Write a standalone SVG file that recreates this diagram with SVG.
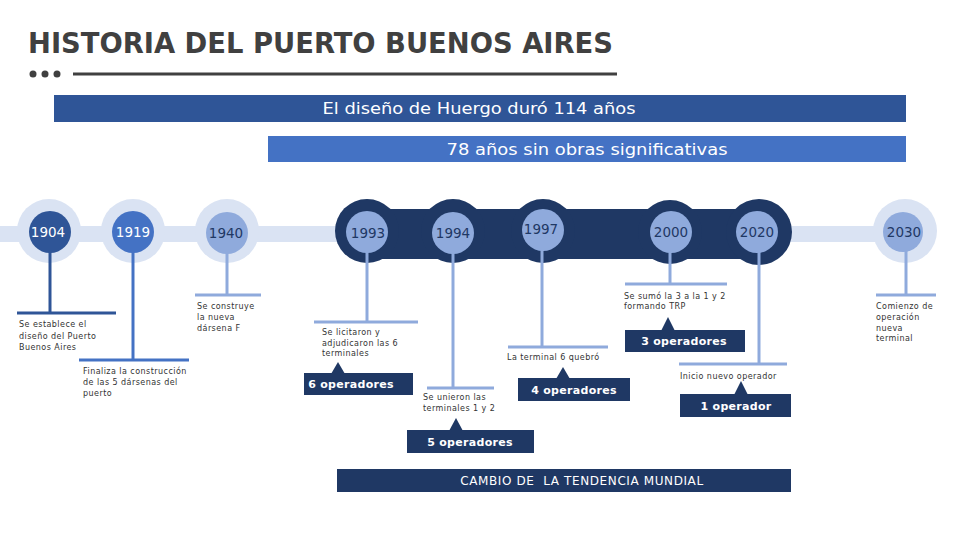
<svg xmlns="http://www.w3.org/2000/svg" width="960" height="540" viewBox="0 0 960 540">
<style>
.title{font-family:"DejaVu Sans Condensed","DejaVu Sans",sans-serif;font-weight:bold;font-size:28px;fill:#404040}
.ban{font-family:"DejaVu Sans Condensed","DejaVu Sans",sans-serif;font-size:16px;fill:#ffffff;text-anchor:middle}
.yr{font-family:"DejaVu Sans",sans-serif;font-size:13.5px;text-anchor:middle}
.yw{fill:#ffffff}
.yd{fill:#1f3864}
.desc{font-family:"DejaVu Sans",sans-serif;font-size:8px;fill:#333333;letter-spacing:0.45px}
.op{font-family:"DejaVu Sans",sans-serif;font-weight:bold;font-size:11px;fill:#ffffff;text-anchor:middle;letter-spacing:0.3px}
.cambio{font-family:"DejaVu Sans",sans-serif;font-size:12px;fill:#ffffff;text-anchor:middle;white-space:pre;letter-spacing:0.6px}
.navy{fill:#1f3864}
.light{fill:#dae3f3}
.b1{fill:#2f5597}
.b2{fill:#4472c4}
.b3{fill:#8faadc}
.c1{stroke:#2f5597;stroke-width:3;fill:none}
.c2{stroke:#4472c4;stroke-width:3;fill:none}
.c3{stroke:#8faadc;stroke-width:3;fill:none}
</style>

<g id="header">
  <text class="title" x="28" y="53" textLength="585" lengthAdjust="spacingAndGlyphs">HISTORIA DEL PUERTO BUENOS AIRES</text>
  <circle cx="33" cy="74" r="3.5" fill="#404040"/>
  <circle cx="45" cy="74" r="3.5" fill="#404040"/>
  <circle cx="57" cy="74" r="3.5" fill="#404040"/>
  <line x1="73" y1="74" x2="617" y2="74" stroke="#404040" stroke-width="3"/>
</g>

<g id="banner-huergo">
  <rect class="b1" x="54" y="95" width="852" height="27"/>
  <text class="ban" x="479" y="114" textLength="313" lengthAdjust="spacingAndGlyphs">El diseño de Huergo duró 114 años</text>
</g>
<g id="banner-78">
  <rect class="b2" x="268" y="136" width="638" height="26"/>
  <text class="ban" x="587" y="155" textLength="281" lengthAdjust="spacingAndGlyphs">78 años sin obras significativas</text>
</g>

<g id="timeline-band">
  <rect class="light" x="0" y="226" width="904" height="16"/>
  <rect class="navy" x="367" y="209" width="392" height="50"/>
</g>

<g id="node-1904">
  <circle class="light" cx="49" cy="231" r="32"/>
  <circle class="b1" cx="50" cy="232" r="21"/>
  <text class="yr yw" x="48" y="237">1904</text>
</g>
<g id="node-1919">
  <circle class="light" cx="133" cy="231" r="32"/>
  <circle class="b2" cx="133" cy="232" r="21"/>
  <text class="yr yw" x="133" y="237">1919</text>
</g>
<g id="node-1940">
  <circle class="light" cx="227" cy="231" r="32"/>
  <circle class="b3" cx="227" cy="233" r="21"/>
  <text class="yr yd" x="226" y="238">1940</text>
</g>
<g id="node-1993">
  <circle class="navy" cx="367" cy="231" r="32"/>
  <circle class="b3" cx="367" cy="232" r="21"/>
  <text class="yr yd" x="368" y="238">1993</text>
</g>
<g id="node-1994">
  <circle class="navy" cx="453" cy="231" r="32"/>
  <circle class="b3" cx="453" cy="233" r="21"/>
  <text class="yr yd" x="453" y="238">1994</text>
</g>
<g id="node-1997">
  <circle class="navy" cx="543" cy="231" r="32"/>
  <circle class="b3" cx="543" cy="230" r="21"/>
  <text class="yr yd" x="541" y="234">1997</text>
</g>
<g id="node-2000">
  <circle class="navy" cx="670" cy="232" r="32"/>
  <circle class="b3" cx="671" cy="232" r="21"/>
  <text class="yr yd" x="671" y="237">2000</text>
</g>
<g id="node-2020">
  <circle class="navy" cx="759" cy="232" r="33"/>
  <circle class="b3" cx="757" cy="232" r="21"/>
  <text class="yr yd" x="757" y="237">2020</text>
</g>
<g id="node-2030">
  <circle class="light" cx="905" cy="231" r="32"/>
  <circle class="b3" cx="903" cy="232" r="20"/>
  <text class="yr yd" x="904" y="237">2030</text>
</g>

<g id="connectors">
  <line class="c1" x1="50" y1="252" x2="50" y2="313"/>
  <line class="c1" x1="17" y1="313" x2="116" y2="313"/>
  <line class="c2" x1="133" y1="252" x2="133" y2="360"/>
  <line class="c2" x1="79" y1="360" x2="189" y2="360"/>
  <line class="c3" x1="227" y1="253" x2="227" y2="295"/>
  <line class="c3" x1="195" y1="295" x2="261" y2="295"/>
  <line class="c3" x1="367" y1="252" x2="367" y2="322"/>
  <line class="c3" x1="314" y1="322" x2="418" y2="322"/>
  <line class="c3" x1="453" y1="253" x2="453" y2="388"/>
  <line class="c3" x1="427" y1="388" x2="494" y2="388"/>
  <line class="c3" x1="542" y1="250" x2="542" y2="347"/>
  <line class="c3" x1="508" y1="347" x2="608" y2="347"/>
  <line class="c3" x1="670" y1="252" x2="670" y2="284"/>
  <line class="c3" x1="625" y1="284" x2="727" y2="284"/>
  <line class="c3" x1="759" y1="252" x2="759" y2="364"/>
  <line class="c3" x1="679" y1="364" x2="787" y2="364"/>
  <line class="c3" x1="906" y1="251" x2="906" y2="295"/>
  <line class="c3" x1="876" y1="295" x2="936" y2="295"/>
</g>

<g id="desc-1904">
  <text class="desc" x="19" y="327">Se establece el</text>
  <text class="desc" x="19" y="338.5">diseño del Puerto</text>
  <text class="desc" x="19" y="350">Buenos Aires</text>
</g>
<g id="desc-1919">
  <text class="desc" x="83" y="374">Finaliza la construcción</text>
  <text class="desc" x="83" y="385">de las 5 dársenas del</text>
  <text class="desc" x="83" y="396">puerto</text>
</g>
<g id="desc-1940">
  <text class="desc" x="197" y="309">Se construye</text>
  <text class="desc" x="197" y="320">la nueva</text>
  <text class="desc" x="197" y="330.5">dársena F</text>
</g>
<g id="desc-1993">
  <text class="desc" x="322" y="335">Se licitaron y</text>
  <text class="desc" x="322" y="345.5">adjudicaron las 6</text>
  <text class="desc" x="322" y="356">terminales</text>
</g>
<g id="desc-1994">
  <text class="desc" x="423" y="400">Se unieron las</text>
  <text class="desc" x="423" y="410.5">terminales 1 y 2</text>
</g>
<g id="desc-1997">
  <text class="desc" x="507" y="360">La terminal 6 quebró</text>
</g>
<g id="desc-2000">
  <text class="desc" x="624" y="299">Se sumó la 3 a la 1 y 2</text>
  <text class="desc" x="624" y="309">formando TRP</text>
</g>
<g id="desc-2020">
  <text class="desc" x="680" y="379">Inicio nuevo operador</text>
</g>
<g id="desc-2030">
  <text class="desc" x="876" y="309">Comienzo de</text>
  <text class="desc" x="876" y="320">operación</text>
  <text class="desc" x="876" y="330.5">nueva</text>
  <text class="desc" x="876" y="341">terminal</text>
</g>

<g id="op-6">
  <rect class="navy" x="304" y="373" width="109" height="22"/>
  <polygon class="navy" points="331,374 338,362 345,374"/>
  <text class="op" x="351" y="388">6 operadores</text>
</g>
<g id="op-5">
  <rect class="navy" x="407" y="430" width="127" height="23"/>
  <polygon class="navy" points="449,431 456,418 463,431"/>
  <text class="op" x="470" y="446">5 operadores</text>
</g>
<g id="op-4">
  <rect class="navy" x="518" y="378" width="112" height="23"/>
  <polygon class="navy" points="556,379 563,367 570,379"/>
  <text class="op" x="574" y="394">4 operadores</text>
</g>
<g id="op-3">
  <rect class="navy" x="625" y="330" width="120" height="22"/>
  <polygon class="navy" points="661,331 668,317 675,331"/>
  <text class="op" x="684" y="345">3 operadores</text>
</g>
<g id="op-1">
  <rect class="navy" x="680" y="394" width="111" height="23"/>
  <polygon class="navy" points="734,395 741,381 748,395"/>
  <text class="op" x="736" y="410">1 operador</text>
</g>

<g id="cambio">
  <rect class="navy" x="337" y="469" width="454" height="23"/>
  <text class="cambio" x="582" y="485" xml:space="preserve">CAMBIO DE  LA TENDENCIA MUNDIAL</text>
</g>
</svg>
